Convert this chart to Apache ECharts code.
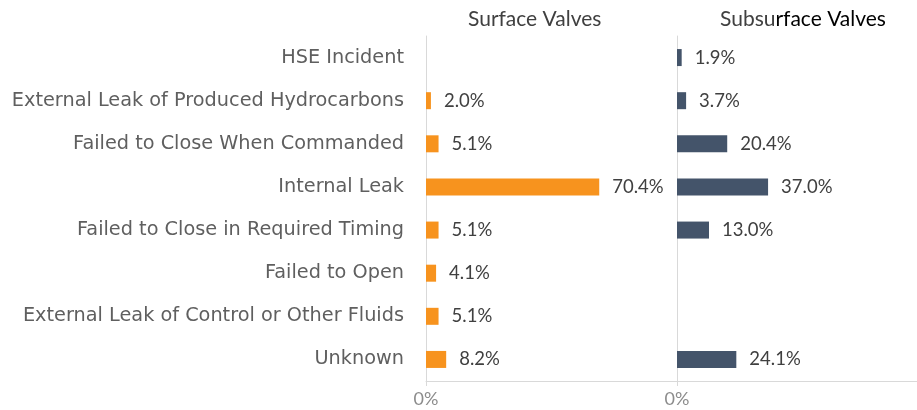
<!DOCTYPE html>
<html>
<head>
<meta charset="utf-8">
<script src="https://cdn.jsdelivr.net/npm/echarts@6/dist/echarts.min.js"></script>
<style>
html, body { margin: 0; padding: 0; background: #fff; }
#main { width: 917px; height: 410px; }
</style>
</head>
<body>
<div id="main"></div>
<script>
var myChart = echarts.init(document.getElementById('main'));

var categories = ['HSE Incident', 'External Leak of Produced Hydrocarbons', 'Failed to Close When Commanded',
    'Internal Leak', 'Failed to Close in Required Timing', 'Failed to Open',
    'External Leak of Control or Other Fluids', 'Unknown'];
var surfaceValves = [null, 2.0, 5.1, 70.4, 5.1, 4.1, 5.1, 8.2];
var subsurfaceValves = [1.9, 3.7, 20.4, 37.0, 13.0, null, null, 24.1];
var xTicks = [0];

var font = 'Lato';
var catFont = 'DejaVu Sans';
var lineColor = '#d9d9d9';

function pct(p) {
    return p.value == null ? '' : p.value.toFixed(1) + '%';
}

function xAxisFor(grid, max) {
    return {
        type: 'value', gridIndex: grid, min: 0, max: max,
        splitLine: { show: false },
        axisLine: { show: true, lineStyle: { color: lineColor, width: 1 } },
        axisTick: { show: true, length: 5, customValues: xTicks, lineStyle: { color: lineColor } },
        axisLabel: {
            color: '#8c8c8c', fontFamily: font, fontSize: 18, margin: 9, customValues: xTicks,
            formatter: function (v) { return v + '%'; }
        }
    };
}

function yAxisFor(grid, showLabels) {
    return {
        type: 'category', gridIndex: grid, data: categories, inverse: true,
        axisLine: { show: true, lineStyle: { color: lineColor } },
        axisTick: { show: false },
        axisLabel: { show: showLabels, color: '#5f5f5f', fontFamily: catFont, fontSize: 19.3, margin: 22,
            padding: [4, 0, 0, 0] }
    };
}

var option = {
    animation: false,
    textStyle: { fontFamily: font },
    grid: [
        { left: 426, width: 251, top: 36, height: 345 },
        { left: 677, width: 240, top: 36, height: 345 }
    ],
    graphic: [
        {
            type: 'text', left: 468, top: 9,
            style: { text: 'Surface Valves', fill: '#404040', font: '21px Lato' }
        },
        {
            type: 'text', left: 720, top: 9,
            style: {
                text: '{a|Subsu}{b|rface Valves}',
                rich: {
                    a: { fill: '#404040', font: '21px Lato' },
                    b: { fill: '#000000', font: '21px Lato' }
                }
            }
        }
    ],
    xAxis: [xAxisFor(0, 102), xAxisFor(1, 97.5)],
    yAxis: [yAxisFor(0, true), yAxisFor(1, false)],
    series: [
        {
            name: 'Surface Valves', type: 'bar', xAxisIndex: 0, yAxisIndex: 0,
            data: surfaceValves, barWidth: 17,
            itemStyle: { color: '#F7931E' },
            label: { show: true, position: 'right', distance: 13, formatter: pct,
                color: '#404040', fontFamily: font, fontSize: 18.5 }
        },
        {
            name: 'Subsurface Valves', type: 'bar', xAxisIndex: 1, yAxisIndex: 1,
            data: subsurfaceValves, barWidth: 17,
            itemStyle: { color: '#44546A' },
            label: { show: true, position: 'right', distance: 13, formatter: pct,
                color: '#404040', fontFamily: font, fontSize: 18.5 }
        }
    ]
};

myChart.setOption(option);
</script>
</body>
</html>
